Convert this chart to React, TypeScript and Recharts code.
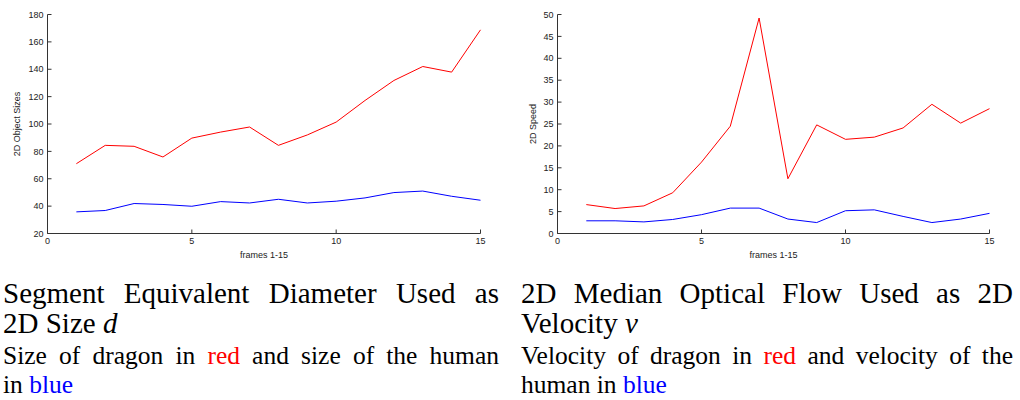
import React from 'react';
import { LineChart, Line, XAxis, YAxis, Label } from 'recharts';

const frames = [1, 2, 3, 4, 5, 6, 7, 8, 9, 10, 11, 12, 13, 14, 15];
const dragonSize = [71, 84.4, 83.7, 75.9, 89.7, 94.1, 97.8, 84.4, 92, 101.4, 117.2, 131.8, 142, 137.9, 168.8];
const humanSize = [35.8, 36.8, 41.9, 41.2, 39.9, 43.3, 42.3, 45, 42.3, 43.6, 46, 49.9, 51, 47.2, 44.3];
const dragonSpeed = [6.6, 5.7, 6.3, 9.3, 16.3, 24.5, 49.2, 12.5, 24.8, 21.5, 22, 24.1, 29.5, 25.2, 28.5];
const humanSpeed = [2.9, 2.9, 2.65, 3.2, 4.3, 5.8, 5.8, 3.3, 2.5, 5.2, 5.4, 3.9, 2.5, 3.3, 4.6];
const frameTicks = [0, 5, 10, 15];
const sizeTicks = [20, 40, 60, 80, 100, 120, 140, 160, 180];
const speedTicks = [0, 5, 10, 15, 20, 25, 30, 35, 40, 45, 50];

const sizeData = frames.map((f, i) => ({ frame: f, dragon: dragonSize[i], human: humanSize[i] }));
const speedData = frames.map((f, i) => ({ frame: f, dragon: dragonSpeed[i], human: humanSpeed[i] }));

const AXIS = '#333';
const tickStyle = { fontFamily: '"Liberation Sans", Arial, sans-serif', fontSize: 9, fill: '#222' };

type PanelProps = {
  data: { frame: number; dragon: number; human: number }[];
  yTicks: number[];
  yLabel: string;
  yLabelOffset: number;
  marginRight: number;
};

function Panel({ data, yTicks, yLabel, yLabelOffset, marginRight }: PanelProps) {
  const domain: [number, number] = [yTicks[0], yTicks[yTicks.length - 1]];
  return (
    <LineChart
      width={510}
      height={262}
      data={data}
      margin={{ top: 14.5, right: marginRight, bottom: 1.5, left: 0.5 }}
    >
      <XAxis
        dataKey="frame"
        type="number"
        domain={[0, 15]}
        ticks={frameTicks}
        height={27}
        tickSize={-4}
        tickMargin={8}
        stroke={AXIS}
        tick={tickStyle}
        interval={0}
      >
        <Label
          value="frames 1-15"
          position="insideBottom"
          offset={3}
          style={{ ...tickStyle, textAnchor: 'middle' }}
        />
      </XAxis>
      <XAxis
        xAxisId="top"
        orientation="top"
        dataKey="frame"
        type="number"
        domain={[0, 15]}
        ticks={frameTicks}
        height={0}
        tickSize={-4}
        stroke={AXIS}
        tick={false}
        interval={0}
      />
      <YAxis
        type="number"
        domain={domain}
        ticks={yTicks}
        width={47}
        tickSize={-4}
        tickMargin={8}
        stroke={AXIS}
        tick={tickStyle}
        interval={0}
      >
        <Label
          value={yLabel}
          angle={-90}
          position="insideLeft"
          offset={yLabelOffset}
          style={{ ...tickStyle, textAnchor: 'middle' }}
        />
      </YAxis>
      <YAxis
        yAxisId="right"
        orientation="right"
        type="number"
        domain={domain}
        ticks={yTicks}
        width={0}
        tickSize={-4}
        stroke={AXIS}
        tick={false}
        interval={0}
      />
      <Line
        type="linear"
        dataKey="dragon"
        stroke="#ff0000"
        strokeWidth={1}
        dot={false}
        activeDot={false}
        isAnimationActive={false}
      />
      <Line
        type="linear"
        dataKey="human"
        stroke="#0000ff"
        strokeWidth={1}
        dot={false}
        activeDot={false}
        isAnimationActive={false}
      />
    </LineChart>
  );
}

const serif = '"Liberation Serif", "Times New Roman", serif';

function JLine({ children, justify }: { children: React.ReactNode; justify: boolean }) {
  return (
    <div
      style={{
        whiteSpace: 'nowrap',
        textAlign: justify ? 'justify' : 'left',
        textAlignLast: justify ? 'justify' : 'left',
      }}
    >
      {children}
    </div>
  );
}

function Caption({ left, width, title1, title2, desc1, desc2 }: {
  left: number; width: number;
  title1: React.ReactNode; title2: React.ReactNode; desc1: React.ReactNode; desc2: React.ReactNode;
}) {
  return (
    <>
      <div style={{ position: 'absolute', left, top: 277.5, width, fontFamily: serif, fontSize: 29, lineHeight: '30px', color: '#000' }}>
        <JLine justify>{title1}</JLine>
        <JLine justify={false}>{title2}</JLine>
      </div>
      <div style={{ position: 'absolute', left, top: 341.2, width, fontFamily: serif, fontSize: 25.5, lineHeight: '29px', color: '#000' }}>
        <JLine justify>{desc1}</JLine>
        <JLine justify={false}>{desc2}</JLine>
      </div>
    </>
  );
}

const red = (t: string) => <span style={{ color: '#ff0000' }}>{t}</span>;
const blue = (t: string) => <span style={{ color: '#0000ff' }}>{t}</span>;

export default function App() {
  return (
    <div style={{ position: 'absolute', left: 0, top: 0, width: 1020, height: 400, background: '#fff', overflow: 'hidden' }}>
      <div style={{ position: 'absolute', left: 0, top: 0 }}>
        <Panel data={sizeData} yTicks={sizeTicks} yLabel="2D Object Sizes" yLabelOffset={16.5} marginRight={29.5} />
      </div>
      <div style={{ position: 'absolute', left: 510, top: 0 }}>
        <Panel data={speedData} yTicks={speedTicks} yLabel="2D Speed" yLabelOffset={22} marginRight={30.5} />
      </div>
      <Caption
        left={3}
        width={496}
        title1="Segment Equivalent Diameter Used as"
        title2={<>2D Size <i>d</i></>}
        desc1={<>Size of dragon in {red('red')} and size of the human</>}
        desc2={<>in {blue('blue')}</>}
      />
      <Caption
        left={521}
        width={492}
        title1="2D Median Optical Flow Used as 2D"
        title2={<>Velocity <i>v</i></>}
        desc1={<>Velocity of dragon in {red('red')} and velocity of the</>}
        desc2={<>human in {blue('blue')}</>}
      />
    </div>
  );
}
